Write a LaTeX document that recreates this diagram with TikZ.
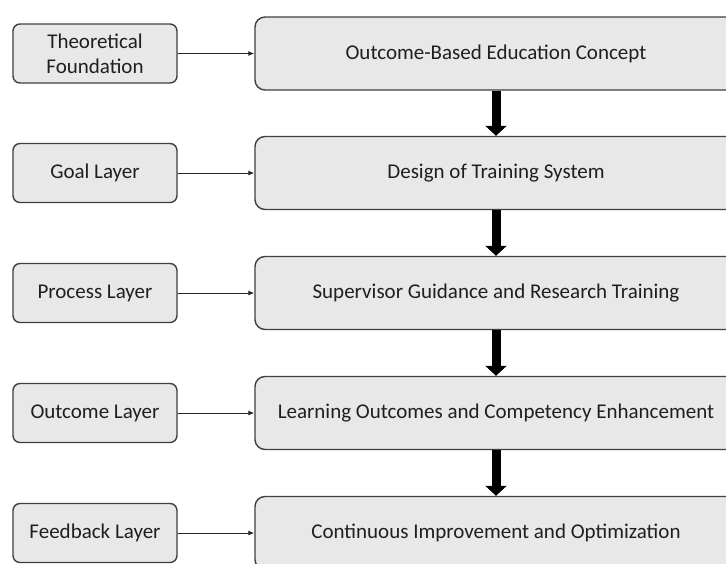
\documentclass[tikz,border=0pt]{standalone}
\usepackage{fontspec}
\setmainfont{Carlito}
\usetikzlibrary{arrows.meta}

\tikzset{
	layerbox/.style={draw=black!75, line width=1.4pt, fill=black!9, rounded corners=7pt,
		minimum width=164pt, minimum height=59pt, inner sep=0pt, align=center,
		text=black!88, font=\fontsize{21}{25}\selectfont},
	stagebox/.style={layerbox, rounded corners=10pt, minimum width=482pt, minimum height=73pt},
	feed/.style={line width=1pt, draw=black!85, -{Latex[length=6pt,width=5pt]}},
	flow/.style={line width=9pt, draw=black, -{Triangle[length=10pt,width=21pt]}},
}

\begin{document}
\begin{tikzpicture}[x=1pt, y=1pt]
			%%%%% START %%%%%
			
			\clip (0, 0) rectangle (726, -563);
			
			\node[layerbox] (theory) at (95, -53.5) {Theoretical\\Foundation};
			\node[layerbox] (goal) at (95, -173) {Goal Layer};
			\node[layerbox] (process) at (95, -293) {Process Layer};
			\node[layerbox] (outcome) at (95, -413) {Outcome Layer};
			\node[layerbox] (feedback) at (95, -533) {Feedback Layer};
			
			\node[stagebox] (concept) at (496, -53.5) {Outcome-Based Education Concept};
			\node[stagebox] (design) at (496, -173) {Design of Training System};
			\node[stagebox] (guidance) at (496, -293) {Supervisor Guidance and Research Training};
			\node[stagebox] (competency) at (496, -413) {Learning Outcomes and Competency Enhancement};
			\node[stagebox] (improve) at (496, -533) {Continuous Improvement and Optimization};
			
			\draw[feed] (theory) -- (concept);
			\draw[feed] (goal) -- (design);
			\draw[feed] (process) -- (guidance);
			\draw[feed] (outcome) -- (competency);
			\draw[feed] (feedback) -- (improve);
			
			\draw[flow] (concept) -- (design);
			\draw[flow] (design) -- (guidance);
			\draw[flow] (guidance) -- (competency);
			\draw[flow] (competency) -- (improve);
			
			%%%%% END %%%%%
\end{tikzpicture}
\end{document}
